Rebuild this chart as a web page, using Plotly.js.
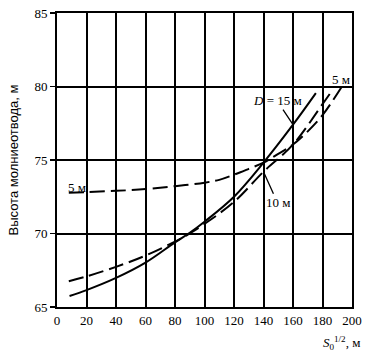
<!DOCTYPE html>
<html>
<head>
<meta charset="utf-8">
<script src="https://cdn.plot.ly/plotly-3.0.1.min.js"></script>
<style>html,body{margin:0;padding:0;background:#fff;}#chart{width:368px;height:355px;}</style>
</head>
<body>
<div id="chart"></div>
<script>
// Data
const x15 = [8.5, 20, 40, 60, 80, 90, 100, 120, 140, 160, 175.5];
const y15 = [65.75, 66.15, 66.98, 68.02, 69.4, 70.05, 70.8, 72.5, 74.82, 77.4, 79.55];

const x10 = [8, 20, 40, 60, 80, 90, 100, 120, 140, 160, 180, 186];
const y10 = [66.75, 67.08, 67.73, 68.5, 69.45, 70.0, 70.65, 72.15, 74.2, 76.05, 78.8, 79.65];

const x5 = [8, 20, 40, 60, 80, 100, 110, 120, 130, 140, 150, 160, 170, 180, 193];
const y5 = [72.78, 72.82, 72.9, 73.02, 73.22, 73.46, 73.65, 74.0, 74.4, 74.82, 75.42, 76.05, 76.95, 78.05, 79.97];

const xTicks = [0, 20, 40, 60, 80, 100, 120, 140, 160, 180, 200];
const yTicks = [65, 70, 75, 80, 85];

const serif = "'Liberation Serif', 'Times New Roman', serif";
const ink = "#000";

const traces = [
  {x: x15, y: y15, mode: "lines", line: {color: ink, width: 2, shape: "spline"}, hoverinfo: "skip"},
  {x: x10, y: y10, mode: "lines", line: {color: ink, width: 2, shape: "spline", dash: "15px,6px"}, hoverinfo: "skip"},
  {x: x5, y: y5, mode: "lines", line: {color: ink, width: 2, shape: "spline", dash: "15px,6px"}, hoverinfo: "skip"}
];

const layout = {
  width: 368, height: 355,
  margin: {l: 57, r: 16, t: 13, b: 48},
  paper_bgcolor: "#fff", plot_bgcolor: "#fff",
  showlegend: false,
  font: {family: serif, size: 13, color: ink},
  xaxis: {
    range: [0, 200], tickvals: xTicks, ticktext: xTicks.map(String),
    showgrid: true, gridcolor: ink, gridwidth: 2,
    showline: true, linecolor: ink, linewidth: 2, mirror: true,
    zeroline: false, ticks: "", fixedrange: true,
    tickfont: {family: serif, size: 13, color: ink}
  },
  yaxis: {
    range: [65, 85], tickvals: yTicks, ticktext: yTicks.map(String),
    showgrid: true, gridcolor: ink, gridwidth: 2,
    showline: true, linecolor: ink, linewidth: 2, mirror: true,
    zeroline: false, ticks: "outside", ticklen: 5, tickcolor: ink, tickwidth: 1.5,
    fixedrange: true,
    tickfont: {family: serif, size: 13, color: ink},
    title: {text: "Высота молниеотвода, м", standoff: 13,
      font: {family: "'Liberation Sans Narrow', 'Liberation Sans', Arial, sans-serif", size: 13, color: ink}}
  },
  annotations: [
    {x: 160, y: 77.4, xref: "x", yref: "y", text: "<i>D</i> = 15 м", showarrow: true,
     arrowhead: 0, arrowwidth: 1.3, arrowcolor: ink, ax: -16, ay: -24,
     font: {family: serif, size: 13, color: ink}},
    {x: 140, y: 74.2, xref: "x", yref: "y", text: "10 м", showarrow: true,
     arrowhead: 0, arrowwidth: 1.3, arrowcolor: ink, ax: 14, ay: 31,
     font: {family: serif, size: 13, color: ink}},
    {x: 13.5, y: 73.1, xref: "x", yref: "y", text: "5 м", showarrow: false,
     font: {family: serif, size: 13, color: ink}},
    {x: 192.5, y: 80.45, xref: "x", yref: "y", text: "5 м", showarrow: false,
     font: {family: serif, size: 13, color: ink}},
    {x: 1.035, y: -0.085, xref: "paper", yref: "paper", xanchor: "right", yanchor: "top",
     text: "<i>S</i><sub>0</sub><sup>1/2</sup>, м", showarrow: false,
     font: {family: serif, size: 13, color: ink}}
  ]
};

Plotly.newPlot("chart", traces, layout, {displayModeBar: false, staticPlot: true});
</script>
</body>
</html>
